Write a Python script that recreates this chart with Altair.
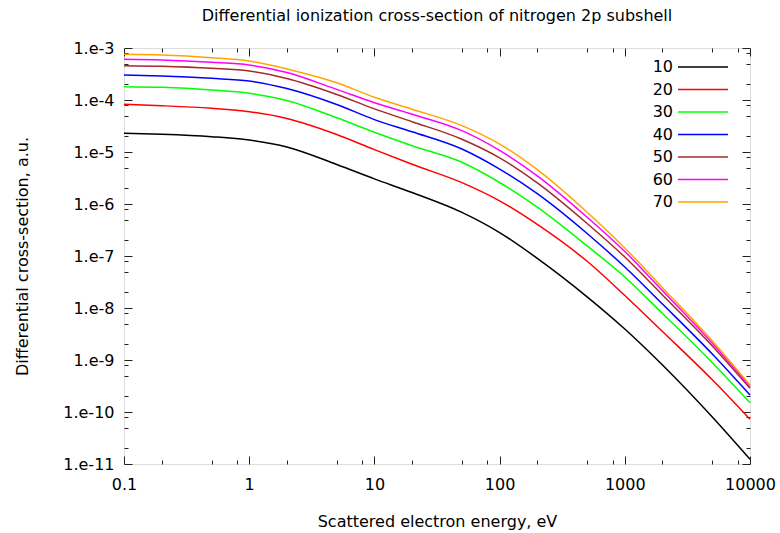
import altair as alt
import pandas as pd

# Scattered electron energy, eV
energy = [0.1, 0.2, 0.5, 1, 2, 5, 10, 20, 50, 100, 200, 500, 1000, 2000, 5000, 10000]

# Differential cross-section (a.u.) for each incident-energy curve
s10 = [2.29e-5, 2.19e-5, 1.97e-5, 1.70e-5, 1.25e-5, 5.75e-6, 3.04e-6, 1.66e-6, 6.89e-7, 2.82e-7,
       9.0e-8, 1.64e-8, 3.94e-9, 8.0e-10, 8.0e-11, 1.23e-11]
s20 = [8.26e-5, 7.77e-5, 6.92e-5, 5.96e-5, 4.41e-5, 2.17e-5, 1.11e-5, 5.80e-6, 2.57e-6, 1.15e-6,
       4.05e-7, 7.91e-8, 1.74e-8, 3.53e-9, 4.16e-10, 7.24e-11]
s30 = [1.80e-4, 1.75e-4, 1.56e-4, 1.35e-4, 9.78e-5, 4.55e-5, 2.40e-5, 1.32e-5, 6.34e-6, 2.59e-6,
       8.68e-7, 1.56e-7, 3.95e-8, 7.84e-9, 8.87e-10, 1.51e-10]
s40 = [3.03e-4, 2.90e-4, 2.61e-4, 2.32e-4, 1.66e-4, 8.19e-5, 4.20e-5, 2.45e-5, 1.14e-5, 4.69e-6,
       1.58e-6, 2.71e-7, 6.14e-8, 1.19e-8, 1.30e-9, 2.12e-10]
s50 = [4.57e-4, 4.45e-4, 4.07e-4, 3.61e-4, 2.59e-4, 1.28e-4, 6.75e-5, 3.83e-5, 1.76e-5, 7.73e-6,
       2.54e-6, 4.22e-7, 9.57e-8, 1.78e-8, 1.86e-9, 2.86e-10]
s60 = [6.07e-4, 5.88e-4, 5.31e-4, 4.71e-4, 3.38e-4, 1.60e-4, 8.87e-5, 5.33e-5, 2.57e-5, 1.07e-5,
       3.47e-6, 5.57e-7, 1.22e-7, 2.15e-8, 2.09e-9, 3.07e-10]
s70 = [7.57e-4, 7.33e-4, 6.51e-4, 5.62e-4, 3.95e-4, 2.14e-4, 1.13e-4, 6.65e-5, 3.21e-5, 1.42e-5,
       4.57e-6, 6.95e-7, 1.43e-7, 2.46e-8, 2.32e-9, 3.30e-10]

series_names = ["10", "20", "30", "40", "50", "60", "70"]
series_values = [s10, s20, s30, s40, s50, s60, s70]
series_colors = ["#000000", "#ff0000", "#00ff00", "#0000ff", "#a52a2a", "#ff00ff", "#ffa500"]

x_label_values = [0.1, 1, 10, 100, 1000, 10000]
y_label_values = [1e-3, 1e-4, 1e-5, 1e-6, 1e-7, 1e-8, 1e-9, 1e-10, 1e-11]
minor_mult = [2, 5, 8]
x_minor_values = [m * d for d in [0.1, 1, 10, 100, 1000] for m in minor_mult]
y_minor_values = [m * d for d in [1e-11, 1e-10, 1e-9, 1e-8, 1e-7, 1e-6, 1e-5, 1e-4] for m in minor_mult]

rows = []
for name, vals in zip(series_names, series_values):
    for e, v in zip(energy, vals):
        rows.append({"energy": e, "dcs": v, "series": name})
df = pd.DataFrame(rows)

FONT = "DejaVu Sans"
FS = 16

xscale = alt.Scale(type="log", domain=[0.1, 10000], nice=False)
yscale = alt.Scale(type="log", domain=[1e-11, 1e-3], nice=False)

lines = alt.Chart(df).mark_line(strokeWidth=1.5, interpolate="monotone").encode(
    x=alt.X("energy:Q", scale=xscale,
            axis=alt.Axis(orient="bottom", values=x_label_values, ticks=False, domain=False,
                          grid=False, labelExpr="format(datum.value, '~g')",
                          labelPadding=12, labelFontSize=FS, labelFont=FONT, labelColor="#000",
                          title="Scattered electron energy, eV", titleFont=FONT,
                          titleFontSize=FS, titleFontWeight="normal", titleColor="#000",
                          titleY=57, titleBaseline="middle", labelFlush=False)),
    y=alt.Y("dcs:Q", scale=yscale,
            axis=alt.Axis(orient="left", values=y_label_values, ticks=False, domain=False,
                          grid=False, labelExpr="'1.e' + round(log(datum.value) / LN10)",
                          labelPadding=10, labelFontSize=FS, labelFont=FONT, labelColor="#000",
                          title="Differential cross-section, a.u.", titleFont=FONT,
                          titleFontSize=FS, titleFontWeight="normal", titleColor="#000",
                          titleX=-102, titleBaseline="middle", labelFlush=False)),
    color=alt.Color("series:N", sort=series_names,
                    scale=alt.Scale(domain=series_names, range=series_colors),
                    legend=alt.Legend(orient="none", legendX=571, legendY=11, title=None,
                                      symbolType="M-5,0L5,0", symbolSize=100,
                                      symbolStrokeWidth=1.5, labelAlign="right",
                                      labelOffset={"expr": "-38"}, rowPadding=6.5,
                                      labelFontSize=FS, labelFont=FONT, labelColor="#000",
                                      labelBaseline="middle", padding=0)),
)


def tick_layer(xorient, yorient, xvals, yvals, size):
    ax = alt.Axis(orient=xorient, values=xvals, tickSize=size, offset=-size, labels=False,
                  domain=False, grid=False, title=None, tickColor="#222", tickWidth=1)
    ay = alt.Axis(orient=yorient, values=yvals, tickSize=size, offset=-size, labels=False,
                  domain=False, grid=False, title=None, tickColor="#222", tickWidth=1)
    return alt.Chart(df).mark_point(opacity=0).encode(
        x=alt.X("energy:Q", scale=xscale, axis=ax),
        y=alt.Y("dcs:Q", scale=yscale, axis=ay),
    )


chart = alt.layer(
    lines,
    tick_layer("bottom", "left", x_label_values, y_label_values, 8),
    tick_layer("bottom", "left", x_minor_values, y_minor_values, 4),
    tick_layer("top", "right", x_label_values, y_label_values, 8),
    tick_layer("top", "right", x_minor_values, y_minor_values, 4),
).resolve_axis(x="independent", y="independent").properties(
    width=626, height=416,
    title=alt.TitleParams("Differential ionization cross-section of nitrogen 2p subshell",
                          frame="group", anchor="middle", font=FONT, fontSize=FS,
                          fontWeight="normal", color="#000", offset=16),
    autosize=alt.AutoSizeParams(type="none"),
    padding={"left": 124, "top": 48, "right": 30, "bottom": 69},
).configure_view(stroke="#808080", strokeWidth=1.2).configure(background="white")

chart.save("out.html", embed_options={"renderer": "svg", "actions": False})
